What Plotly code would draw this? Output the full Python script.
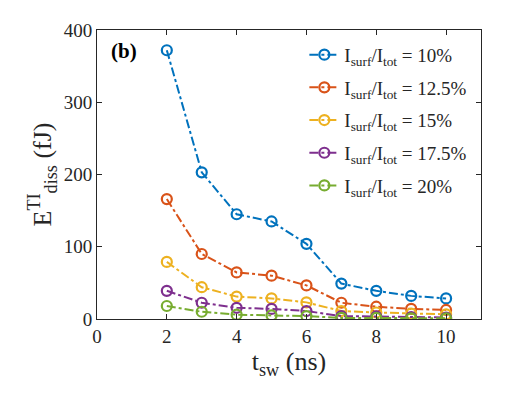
import plotly.graph_objects as go

# switching time (ns)
t_sw = [2, 3, 4, 5, 6, 7, 8, 9, 10]

# dissipated energy (fJ) for each I_surf/I_tot ratio
e_10 = [372, 203, 145, 135, 104, 49, 39, 32, 28.5]
e_125 = [166, 90, 64.5, 60, 46.5, 22.5, 17, 14, 12.5]
e_15 = [79, 44, 31, 28.5, 23, 11, 9, 7.5, 6.5]
e_175 = [39, 22.5, 15.5, 14, 11, 4, 3.5, 2.5, 2]
e_20 = [18, 10, 6, 5, 4, 1.5, 1.5, 1, 1]

labels = ['10%', '12.5%', '15%', '17.5%', '20%']
colors = ['#0072BD', '#D95319', '#EDB120', '#7E2F8E', '#77AC30']
series = [e_10, e_125, e_15, e_175, e_20]

serif = 'Liberation Serif, Times New Roman, serif'

fig = go.Figure()
for lab, col, ys in zip(labels, colors, series):
    fig.add_trace(go.Scatter(
        x=t_sw, y=ys, mode='lines+markers',
        name='I<sub>surf</sub>/I<sub>tot</sub> = ' + lab,
        legendgroup=lab,
        line=dict(color=col, width=2, dash='dashdot'),
        marker=dict(symbol='circle-open', size=10, color=col, line=dict(width=2.2)),
    ))

axis_style = dict(showline=True, linecolor='#262626', linewidth=1, mirror='ticks',
                  ticks='inside', ticklen=5, tickcolor='#262626', showgrid=False,
                  zeroline=False, tickfont=dict(family=serif, size=19, color='#262626'))

fig.update_xaxes(range=[0, 11], tickvals=[0, 2, 4, 6, 8, 10],
                 title=dict(text='t<sub>sw</sub> (ns)', font=dict(family=serif, size=26, color='#262626'),
                            standoff=6),
                 **axis_style)
fig.update_yaxes(range=[0, 400], tickvals=[0, 100, 200, 300, 400],
                 title=dict(text='E<sup>TI</sup><sub>diss</sub> (fJ)',
                            font=dict(family=serif, size=26, color='#262626'), standoff=4),
                 **axis_style)

fig.add_annotation(x=0.03, y=0.975, xref='paper', yref='paper', xanchor='left', yanchor='top',
                   text='<b>(b)</b>', showarrow=False, font=dict(family=serif, size=21, color='black'))

# the page has an 8px body margin, so shift margins to compensate
fig.update_layout(
    width=532, height=399,
    margin=dict(l=89, r=59, t=22, b=88),
    paper_bgcolor='white', plot_bgcolor='white',
    font=dict(family=serif, color='#262626'),
    legend=dict(x=0.54, y=0.98, xanchor='left', yanchor='top', bgcolor='rgba(0,0,0,0)',
                font=dict(family=serif, size=19), tracegroupgap=5, itemwidth=30),
    showlegend=True,
)

fig.write_html("out.html")
